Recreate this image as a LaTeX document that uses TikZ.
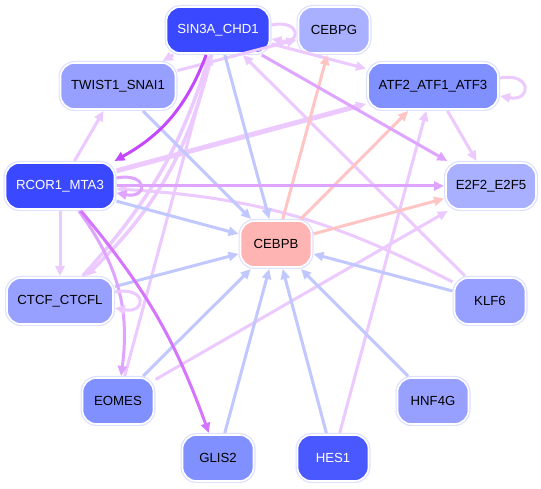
\documentclass[tikz,border=0pt]{standalone}
\usepackage{fontspec}
\setmainfont{Liberation Sans}
\usetikzlibrary{arrows.meta,calc}
\definecolor{nodeA}{RGB}{58,72,255}
\definecolor{nodeH}{RGB}{74,88,255}
\definecolor{nodeB}{RGB}{128,144,255}
\definecolor{nodeC}{RGB}{152,160,255}
\definecolor{nodeD}{RGB}{168,176,255}
\definecolor{nodeP}{RGB}{255,180,180}
\definecolor{ring}{RGB}{222,224,255}
\definecolor{eblue}{RGB}{192,200,255}
\definecolor{epink}{RGB}{255,196,196}
\definecolor{elav}{RGB}{236,202,255}
\definecolor{emid}{RGB}{222,164,255}
\definecolor{edark}{RGB}{196,72,255}
\definecolor{edarkb}{RGB}{212,116,255}
\begin{document}
\begin{tikzpicture}[x=1pt,y=1pt,
  gene/.style={rounded corners=14pt, minimum height=46pt, minimum width=71pt, inner sep=0pt, outer sep=2pt,
    draw=white, line width=1.6pt, preaction={draw=ring, line width=4pt},
    font=\fontsize{13.2}{15}\selectfont},
  dk/.style={gene, text=white},
  ed/.style={line width=3pt, -{Triangle[length=10pt,width=9pt]}},
  blu/.style={ed, draw=eblue},
  pnk/.style={ed, draw=epink},
  lav/.style={ed, draw=elav},
  mid/.style={ed, draw=emid},
  drk/.style={ed, draw=edark},
  drkb/.style={ed, draw=edarkb}
]
\useasboundingbox (0,0) rectangle (541,489);
\fill[white] (0,0) rectangle (541,489);
% nodes
\node[dk, fill=nodeA, minimum width=103pt] (sin3a) at (218,459) {SIN3A\_CHD1};
\node[gene, fill=nodeD] (cebpg) at (334,459) {CEBPG};
\node[gene, fill=nodeC, minimum width=115pt] (twist) at (118,403) {TWIST1\_SNAI1};
\node[gene, fill=nodeB, minimum width=130pt] (atf2) at (433,403) {ATF2\_ATF1\_ATF3};
\node[dk, fill=nodeA, minimum width=109pt] (rcor1) at (60,303) {RCOR1\_MTA3};
\node[gene, fill=nodeD, minimum width=90pt] (e2f2) at (491,303) {E2F2\_E2F5};
\node[gene, fill=nodeP] (cebpb) at (276,245) {CEBPB};
\node[gene, fill=nodeC, minimum width=106pt] (ctcf) at (60,188) {CTCF\_CTCFL};
\node[gene, fill=nodeC] (klf6) at (490,188) {KLF6};
\node[gene, fill=nodeB] (eomes) at (118,88) {EOMES};
\node[gene, fill=nodeC] (hnf4g) at (433,88) {HNF4G};
\node[gene, fill=nodeB] (glis2) at (218,31) {GLIS2};
\node[dk, fill=nodeH] (hes1) at (333,31) {HES1};
% edges
\draw[lav] (klf6) -- (sin3a);
\draw[lav] (klf6) to[bend right=12] (rcor1);
\draw[lav] (eomes) -- (e2f2);
\draw[lav] (hes1) -- (atf2);
\draw[lav] (eomes) -- (sin3a);
\draw[lav] (sin3a) -- (twist);
\draw[lav] (sin3a) -- (atf2);
\draw[lav] (twist) -- (cebpg);
\draw[lav] (rcor1) -- (twist);
\draw[lav] (rcor1) -- (ctcf);
\draw[lav] (atf2) -- (e2f2);
\draw[lav, line width=3.5pt] (sin3a) to[bend left=16] (ctcf);
\draw[lav, line width=3.5pt] (ctcf) to[bend right=12] (sin3a);
\draw[lav, line width=5pt] (rcor1) -- (atf2);
\draw[blu] (sin3a) -- (cebpb);
\draw[blu] (twist) -- (cebpb);
\draw[blu] (rcor1) -- (cebpb);
\draw[blu] (ctcf) -- (cebpb);
\draw[blu] (eomes) -- (cebpb);
\draw[blu] (glis2) -- (cebpb);
\draw[blu] (hes1) -- (cebpb);
\draw[blu] (hnf4g) -- (cebpb);
\draw[blu] (klf6) -- (cebpb);
\draw[pnk] (cebpb) -- (cebpg);
\draw[pnk] (cebpb) -- (atf2);
\draw[pnk] (cebpb) -- (e2f2);
\draw[mid] (sin3a) -- (e2f2);
\draw[mid] (rcor1) -- (e2f2);
\draw[mid] (rcor1) to[bend left=22] (eomes);
\draw[drkb] (rcor1) to[bend left=10] (glis2);
\draw[drk] (sin3a) to[bend left=20] (rcor1);
% self loops
\draw[lav] ($(sin3a.east)+(0,5)$) .. controls +(30,6) and +(30,-6) .. ($(sin3a.east)+(0,-9)$);
\draw[lav] ($(atf2.east)+(0,8)$) .. controls +(32,6) and +(32,-6) .. ($(atf2.east)+(0,-10)$);
\draw[mid] ($(rcor1.east)+(0,8)$) .. controls +(32,6) and +(32,-6) .. ($(rcor1.east)+(0,-7)$);
\draw[lav] ($(ctcf.east)+(0,9)$) .. controls +(32,6) and +(32,-6) .. ($(ctcf.east)+(0,-7)$);
\end{tikzpicture}
\end{document}
